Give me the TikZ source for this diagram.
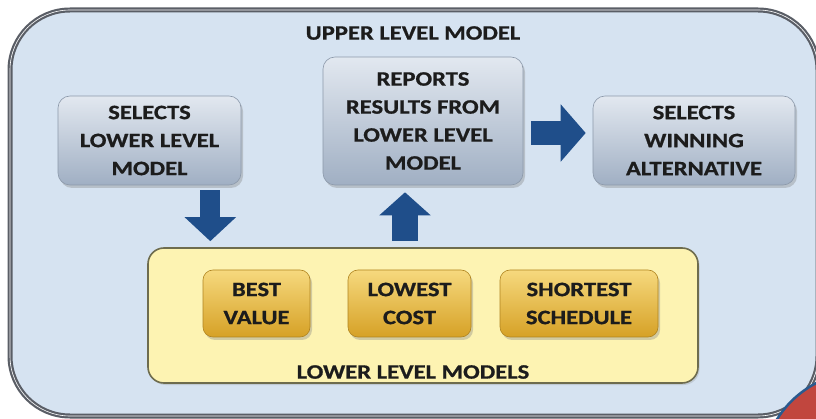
\documentclass[tikz,border=0pt]{standalone}
\usepackage{fontspec}
\setmainfont[FakeStretch=1.2,FakeBold=0.8]{Carlito}
\usetikzlibrary{arrows.meta,shadows,calc}
\definecolor{bgblue}{HTML}{D6E3F1}
\definecolor{frame}{HTML}{5A5E66}
\definecolor{boxtop}{HTML}{E2E8F0}
\definecolor{boxbot}{HTML}{A0AFC3}
\definecolor{boxline}{HTML}{8C99AA}
\definecolor{yellowfill}{HTML}{FDF3B2}
\definecolor{yellowline}{HTML}{6E6C4E}
\definecolor{orangetop}{HTML}{F6D97E}
\definecolor{orangebot}{HTML}{D6A126}
\definecolor{orangeline}{HTML}{B08420}
\definecolor{arrowblue}{HTML}{1F4E8A}
\definecolor{txt}{HTML}{1C1C1C}
\definecolor{redfill}{HTML}{C1463E}
\definecolor{redline}{HTML}{2A5A8E}
\tikzset{
  lbl/.style={font=\bfseries\fontsize{20.5}{28}\selectfont, text=txt, align=center, inner sep=0pt},
  outerbox/.style={draw=frame, line width=2.2pt, fill=bgblue, rounded corners=60pt,
    double=white, double distance=0.6pt},
  graybox/.style={lbl, draw=boxline, line width=0.6pt, rounded corners=12pt,
    top color=boxtop, bottom color=boxbot,
    drop shadow={shadow xshift=2pt, shadow yshift=-3pt, opacity=0.35}},
  yellowbox/.style={draw=yellowline, line width=1.6pt, fill=yellowfill, rounded corners=16pt,
    drop shadow={shadow xshift=1.5pt, shadow yshift=-2pt, opacity=0.25}},
  orangebox/.style={lbl, draw=orangeline, line width=0.6pt, rounded corners=10pt,
    top color=orangetop, bottom color=orangebot,
    drop shadow={shadow xshift=2pt, shadow yshift=-3pt, opacity=0.35}},
  fatdown/.style={draw=arrowblue, line width=20pt, -{Triangle[width=50pt,length=24pt]}},
  fatup/.style={draw=arrowblue, line width=26pt, -{Triangle[width=50pt,length=23pt]}},
  fatright/.style={draw=arrowblue, line width=24pt, -{Triangle[width=56pt,length=25pt]}},
}
\begin{document}
\begin{tikzpicture}[x=1pt,y=-1pt]
\useasboundingbox (0,0) rectangle (816,419);
\fill[white] (0,0) rectangle (816,419);
% outer frame
\node[outerbox, minimum width=808pt, minimum height=406pt, inner sep=0pt] (U) at (414,213) {};
\node[lbl] (ut) at (413,33) {UPPER LEVEL MODEL};
% upper boxes
\node[graybox, minimum width=183pt, minimum height=89pt] (A) at (149.5,140.5)
  {SELECTS\\LOWER LEVEL\\MODEL};
\node[graybox, minimum width=200pt, minimum height=128pt] (B) at (423,121)
  {REPORTS\\RESULTS FROM\\LOWER LEVEL\\MODEL};
\node[graybox, minimum width=202pt, minimum height=89pt] (C) at (694,140.5)
  {SELECTS\\WINNING\\ALTERNATIVE};
% lower models
\node[yellowbox, minimum width=550pt, minimum height=135pt, inner sep=0pt] (Y) at (423,315.5) {};
\node[lbl] (lt) at (413,372) {LOWER LEVEL MODELS};
\node[orangebox, minimum width=107pt, minimum height=67pt] (O1) at (256.5,303.5) {BEST\\VALUE};
\node[orangebox, minimum width=123pt, minimum height=67pt] (O2) at (409.5,303.5) {LOWEST\\COST};
\node[orangebox, minimum width=158pt, minimum height=67pt] (O3) at (579,303.5) {SHORTEST\\SCHEDULE};
% arrows
\coordinate (d1) at ([xshift=-31pt,yshift=-5pt]A.south east);
\coordinate (d2) at ([yshift=6pt]d1 |- Y.north);
\draw[fatdown] (d1) -- (d2);
\coordinate (u1) at ([xshift=-18pt,yshift=6pt]B.south |- Y.north);
\coordinate (u2) at ([xshift=-18pt,yshift=-7pt]B.south);
\draw[fatup] (u1) -- (u2);
\coordinate (r1) at ([xshift=8pt,yshift=-12pt]B.east);
\coordinate (r2) at ([xshift=-7pt]r1 -| C.west);
\draw[fatright] (r1) -- (r2);
% red corner shape
\draw[fill=redfill, draw=redline, line width=2.5pt] (862,472) circle[radius=100];
\end{tikzpicture}
\end{document}
